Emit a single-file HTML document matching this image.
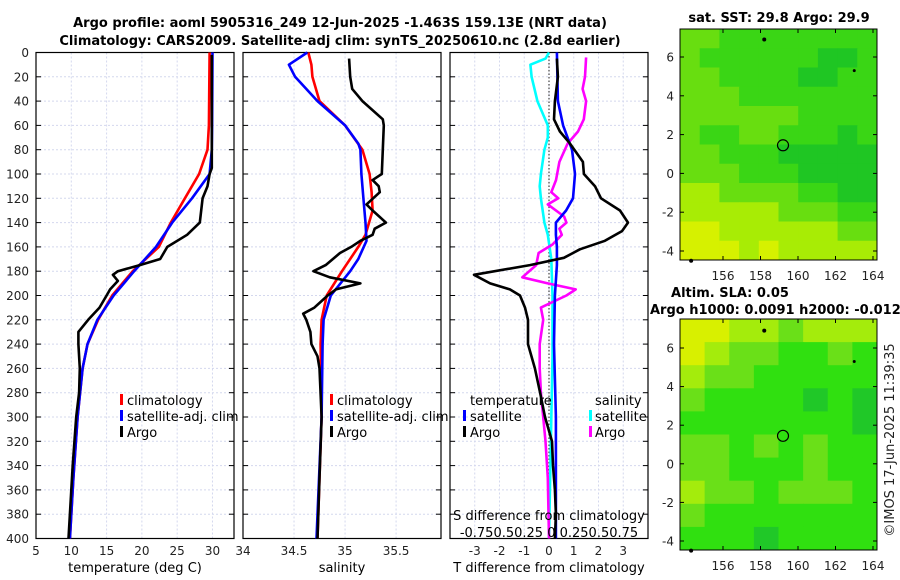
<!DOCTYPE html>
<html><head><meta charset="utf-8">
<style>
html,body{margin:0;padding:0;background:#fff;}
svg{display:block;font-family:"DejaVu Sans","Liberation Sans",sans-serif;}
.tk{font-size:12px;fill:#222;}
.tt{font-size:13px;font-weight:bold;fill:#000;}
.lg{font-size:13px;fill:#000;}
</style></head>
<body>
<svg id="chart" width="900" height="580" viewBox="0 0 900 580">
<text class="tt" x="340" y="27" text-anchor="middle">Argo profile: aoml 5905316_249 12-Jun-2025 -1.463S 159.13E (NRT data)</text>
<text class="tt" x="340" y="45" text-anchor="middle">Climatology: CARS2009. Satellite-adj clim: synTS_20250610.nc (2.8d earlier)</text>
<text class="tt" x="779" y="22" text-anchor="middle">sat. SST: 29.8 Argo: 29.9</text>
<text class="tt" x="730" y="297" text-anchor="middle">Altim. SLA: 0.05</text>
<text class="tt" x="650" y="314">Argo h1000: 0.0091 h2000: -0.012</text>
<text class="tk" x="0" y="0" transform="translate(894,440) rotate(-90)" text-anchor="middle" style="font-size:13px">©IMOS 17-Jun-2025 11:39:35</text>
<g id="g"></g>
</svg>
<script>
// ---- depth-profile data (depth m, value) ----
const tClimDepth=[0,60,80,100,120,140,160,180,200,220,240,260,300,350,400];
const tClimVal=[29.6,29.5,29.3,28.1,26.1,24.1,22.4,18.7,15.8,13.8,12.3,11.6,10.9,10.3,9.8];
const tSatDepth=[0,60,80,100,120,140,160,180,200,220,240,260,300,350,400];
const tSatVal=[30.0,29.95,29.9,29.6,27.1,24.3,22.0,18.9,16.0,13.7,12.3,11.6,10.9,10.3,9.8];
const tArgoDepth=[2,95,100,110,120,140,150,160,170,175,180,183,188,195,200,210,220,230,240,260,280,300,340,400];
const tArgoVal=[29.9,29.9,29.6,29.3,28.6,28.2,26.4,23.6,22.6,19.7,16.6,15.9,16.6,15.5,15.0,14.0,12.4,11.0,11.0,11.2,11.1,10.7,10.2,9.6];
const sClimDepth=[0,10,20,40,60,80,100,115,130,150,160,180,200,220,240,300,350,400];
const sClimVal=[34.64,34.67,34.68,34.75,35.0,35.17,35.24,35.26,35.27,35.2,35.13,34.97,34.82,34.77,34.76,34.77,34.75,34.73];
const sSatDepth=[0,10,20,40,60,75,80,100,120,140,155,170,180,200,220,240,300,400];
const sSatVal=[34.63,34.45,34.51,34.73,35.0,35.13,35.15,35.16,35.18,35.2,35.21,35.13,35.05,34.86,34.79,34.78,34.77,34.72];
const sArgoDepth=[5,20,30,40,55,60,100,105,110,115,125,130,140,145,150,155,160,165,175,180,185,190,195,200,210,215,220,230,240,250,260,300,350,400];
const sArgoVal=[35.04,35.05,35.07,35.17,35.37,35.38,35.36,35.27,35.33,35.34,35.21,35.27,35.40,35.29,35.27,35.15,35.06,34.95,34.81,34.69,34.85,35.15,34.91,34.83,34.70,34.59,34.62,34.66,34.67,34.73,34.75,34.77,34.75,34.73];
// difference panel
const dTSatDepth=[0,40,60,80,100,120,130,140,150,160,175,200,240,300,400];
const dTSatVal=[0.32,0.36,0.57,0.93,1.05,0.97,0.69,0.28,0.28,0.32,0.32,0.24,0.2,0.28,0.28];
const dTArgoDepth=[5,20,40,55,65,75,90,100,110,120,130,140,147,155,162,165,169,175,183,190,195,200,210,220,240,260,280,300,320,340,360,380,400];
const dTArgoVal=[0.32,0.36,0.24,0.2,0.44,0.85,1.37,1.41,1.86,2.1,2.87,3.19,2.95,2.26,1.25,0.97,0.6,-0.77,-3.03,-2.38,-1.58,-1.17,-0.97,-0.85,-0.85,-0.57,-0.36,-0.16,0.12,0.16,0.24,0.28,0.24];
const dSSatDepth=[0,5,10,20,40,60,70,80,100,110,120,140,150,170,200,250,400];
const dSSatVal=[0.0,-0.03,-0.16,-0.15,-0.1,-0.01,-0.01,-0.04,-0.07,-0.08,-0.07,-0.04,-0.01,0.02,0.03,0.03,0.0];
const dSArgoDepth=[4,20,30,40,55,65,75,90,105,115,120,125,135,140,145,150,158,165,175,185,190,195,200,210,220,240,260,280,300,320,350,400];
const dSArgoVal=[0.32,0.31,0.29,0.32,0.3,0.25,0.16,0.09,0.06,0.02,0.08,-0.01,0.13,0.15,0.09,0.11,0.03,-0.09,-0.11,-0.23,-0.01,0.23,0.15,-0.07,-0.05,-0.08,-0.08,-0.07,-0.05,-0.03,-0.01,0.0];
// map level grids (0 = dark green ... 4 = yellow)
const sstLevels=[
[2,2,1,1,1,1,1,1,1,1],[2,1,1,1,1,1,1,0,0,1],[2,2,1,1,1,1,0,0,1,1],[2,2,2,1,1,1,1,1,1,1],
[2,2,2,2,2,2,1,1,1,1],[2,1,1,2,2,1,1,1,0,1],[2,2,1,1,1,0,0,0,0,0],[2,2,2,1,1,1,0,0,0,0],
[3,3,2,2,2,2,1,1,0,0],[3,3,3,3,3,2,2,2,1,1],[4,4,3,3,3,3,3,3,2,2],[4,4,4,3,4,3,3,3,3,3]];
const slaLevels=[
[4,4,3,3,2,3,3,3],[4,3,2,2,1,1,2,1],[3,2,2,1,1,1,1,1],[2,1,1,1,1,0,1,0],[1,1,1,1,1,1,1,0],
[2,2,1,2,1,2,1,1],[2,2,1,1,1,2,1,1],[3,2,2,1,2,2,2,1],[2,1,1,1,1,1,1,1],[1,1,1,0,1,1,1,1]];
const depthTicks=[0,20,40,60,80,100,120,140,160,180,200,220,240,260,280,300,320,340,360,380,400];
const tTicks=[5,10,15,20,25,30];
const sTicks=[34,34.5,35,35.5];
const dTicks=[-3,-2,-1,0,1,2,3];
const lonTicks=[156,158,160,162,164];
const latTicks=[-4,-2,0,2,4,6];

const NS='http://www.w3.org/2000/svg';
const G=document.getElementById('g');
function mk(tag,attrs,parent){const e=document.createElementNS(NS,tag);for(const k in attrs)e.setAttribute(k,attrs[k]);(parent||G).appendChild(e);return e;}
const Y0=52.5,Y1=538.5;
const yD=d=>Y0+(d/400)*(Y1-Y0);
function lin(d0,d1,p0,p1){return v=>p0+(v-d0)/(d1-d0)*(p1-p0);}
const xT=lin(5,33.05,36,234), xS=lin(34,35.94,243,441), xD=lin(-4,4,450,648), xDS=lin(-1,1,433,665);

function panel(name,x0,x1,xs,ticks,labelFn){
  const g=mk('g',{});
  
  
  depthTicks.forEach(d=>{const l=mk('line',{x1:x0,x2:x1,y1:yD(d),y2:yD(d),stroke:'#d4d8ee','stroke-width':1,'stroke-dasharray':'2,2'},g);
    });
  ticks.forEach(t=>{const x=xs(t);if(x<x0-1||x>x1+1)return;
    const l=mk('line',{x1:x,x2:x,y1:Y0,y2:Y1,stroke:'#d4d8ee','stroke-width':1,'stroke-dasharray':'2,2'},g);
    });
  depthTicks.forEach(d=>{mk('line',{x1:x0,x2:x0+5,y1:yD(d),y2:yD(d),stroke:'#000'},g);mk('line',{x1:x1,x2:x1-5,y1:yD(d),y2:yD(d),stroke:'#000'},g);});
  const r=mk('rect',{x:x0,y:Y0,width:x1-x0,height:Y1-Y0,fill:'none',stroke:'#000','stroke-width':1.2},g);
  
  ticks.forEach(t=>{let x=xs(t);if(x>x1+1)return;
    const tx=mk('text',{x:x,y:555,'text-anchor':'middle',class:'tk'},g);tx.textContent=labelFn(t);
    });
  return g;
}
function series(name,depths,vals,xs,color,w){
  const pts=depths.map((d,i)=>xs(vals[i]).toFixed(1)+','+yD(d).toFixed(1)).join(' ');
  const p=mk('polyline',{points:pts,fill:'none',stroke:color,'stroke-width':w||2.6,'stroke-linejoin':'round'});
  
  
  return p;
}
function txt(s,x,y,name,cls,anchor){const t=mk('text',{x:x,y:y,class:cls||'lg','text-anchor':anchor||'start'});t.textContent=s;
  
  
  return t;}
function mark(x,y,c){const r=mk('rect',{x:x,y:y-11,width:3,height:11,fill:c});
  
  }

// depth labels
depthTicks.forEach(d=>{const t=mk('text',{x:29,y:yD(d)+4.5,'text-anchor':'end',class:'tk'});t.textContent=d;
  
  });

// panel 1
panel('temperature-panel',36,234,xT,tTicks,t=>t);
series('temp-climatology-line',tClimDepth,tClimVal,xT,'#f00');
series('temp-satellite-line',tSatDepth,tSatVal,xT,'#00f');
series('temp-argo-line',tArgoDepth,tArgoVal,xT,'#000');
txt('temperature (deg C)',135,572,'x-axis-title-temperature','lg','middle');
mark(120,405,'#f00');txt('climatology',127,405,'legend-climatology');
mark(120,421,'#00f');txt('satellite-adj. clim',127,421,'legend-satellite');
mark(120,437,'#000');txt('Argo',127,437,'legend-argo');

// panel 2
panel('salinity-panel',243,441,xS,sTicks,t=>t);
series('sal-climatology-line',sClimDepth,sClimVal,xS,'#f00');
series('sal-satellite-line',sSatDepth,sSatVal,xS,'#00f');
series('sal-argo-line',sArgoDepth,sArgoVal,xS,'#000');
txt('salinity',342,572,'x-axis-title-salinity','lg','middle');
mark(330,405,'#f00');txt('climatology',337,405,'legend-climatology-2');
mark(330,421,'#00f');txt('satellite-adj. clim',337,421,'legend-satellite-2');
mark(330,437,'#000');txt('Argo',337,437,'legend-argo-2');

// panel 3
panel('difference-panel',450,648,xD,dTicks,t=>t);
const zl=mk('line',{x1:xD(0),x2:xD(0),y1:Y0,y2:Y1,stroke:'#444','stroke-width':1.2,'stroke-dasharray':'1.5,2'});


series('dS-satellite-line',dSSatDepth,dSSatVal,xDS,'#0ff');
series('dS-argo-line',dSArgoDepth,dSArgoVal,xDS,'#f0f');
series('dT-satellite-line',dTSatDepth,dTSatVal,xD,'#00f');
series('dT-argo-line',dTArgoDepth,dTArgoVal,xD,'#000');
txt('temperature',470,405,'legend-temperature-header');
mark(463,421,'#00f');txt('satellite',470,421,'legend-dT-satellite');
mark(463,437,'#000');txt('Argo',470,437,'legend-dT-argo');
txt('salinity',595,405,'legend-salinity-header');
mark(589,421,'#0ff');txt('satellite',595,421,'legend-dS-satellite');
mark(589,437,'#f0f');txt('Argo',595,437,'legend-dS-argo');
txt('S difference from climatology',549,520,'s-axis-title','lg','middle');
txt('-0.750.50.25 0 0.250.50.75',549,537,'s-axis-ticks','lg','middle');
txt('T difference from climatology',549,572,'x-axis-title-tdiff','lg','middle');

// maps
const lvlColors=['#1fc623','#3ad615','#68de10','#a8ec05','#d6f100'];
const slaColors=['#20c828','#30e010','#6ae018','#a4ec0c','#d8f000'];
function map(name,x0,y0,w,h,levels,colors,lat6,lat4m){
  const g=mk('g',{});
  
  
  const rows=levels.length,cols=levels[0].length,cw=w/cols,ch=h/rows;
  levels.forEach((row,r)=>row.forEach((v,c)=>{
    const cell=mk('rect',{x:x0+c*cw,y:y0+r*ch,width:cw+0.5,height:ch+0.5,fill:colors[v]},g);
    
    }));
  const lonX=lin(156,164,723,873);
  const latY=lin(6,-4,lat6,lat4m);
  mk('rect',{x:x0,y:y0,width:w,height:h,fill:'none',stroke:'#000','stroke-width':1},g);
  lonTicks.forEach(l=>{mk('line',{x1:lonX(l),x2:lonX(l),y1:y0+h,y2:y0+h-4,stroke:'#000'},g);mk('line',{x1:lonX(l),x2:lonX(l),y1:y0,y2:y0+4,stroke:'#000'},g);});
  latTicks.forEach(l=>{mk('line',{x1:x0,x2:x0+4,y1:latY(l),y2:latY(l),stroke:'#000'},g);mk('line',{x1:x0+w,x2:x0+w-4,y1:latY(l),y2:latY(l),stroke:'#000'},g);
    const t=mk('text',{x:x0-6,y:latY(l)+4.5,'text-anchor':'end',class:'tk'},g);t.textContent=l;
    });
  const c=mk('circle',{cx:lonX(159.2),cy:latY(1.45),r:5.5,fill:'none',stroke:'#000','stroke-width':1.2},g);
  
  [[158.2,6.9,2],[163,5.3,1.5],[154.3,-4.5,2]].forEach(p=>mk('circle',{cx:lonX(p[0]),cy:latY(p[1]),r:p[2],fill:'#000'},g));
  return {g,lonX};
}
const m1=map('sst-map',680,29,197,231,sstLevels,lvlColors,57,251);
lonTicks.forEach(l=>{const t=mk('text',{x:m1.lonX(l),y:280,'text-anchor':'middle',class:'tk'});t.textContent=l;
  });
const m2=map('sla-map',680,319,197,231,slaLevels,slaColors,348,541);
lonTicks.forEach(l=>{const t=mk('text',{x:m2.lonX(l),y:570,'text-anchor':'middle',class:'tk'});t.textContent=l;
  });
</script>
</body></html>
